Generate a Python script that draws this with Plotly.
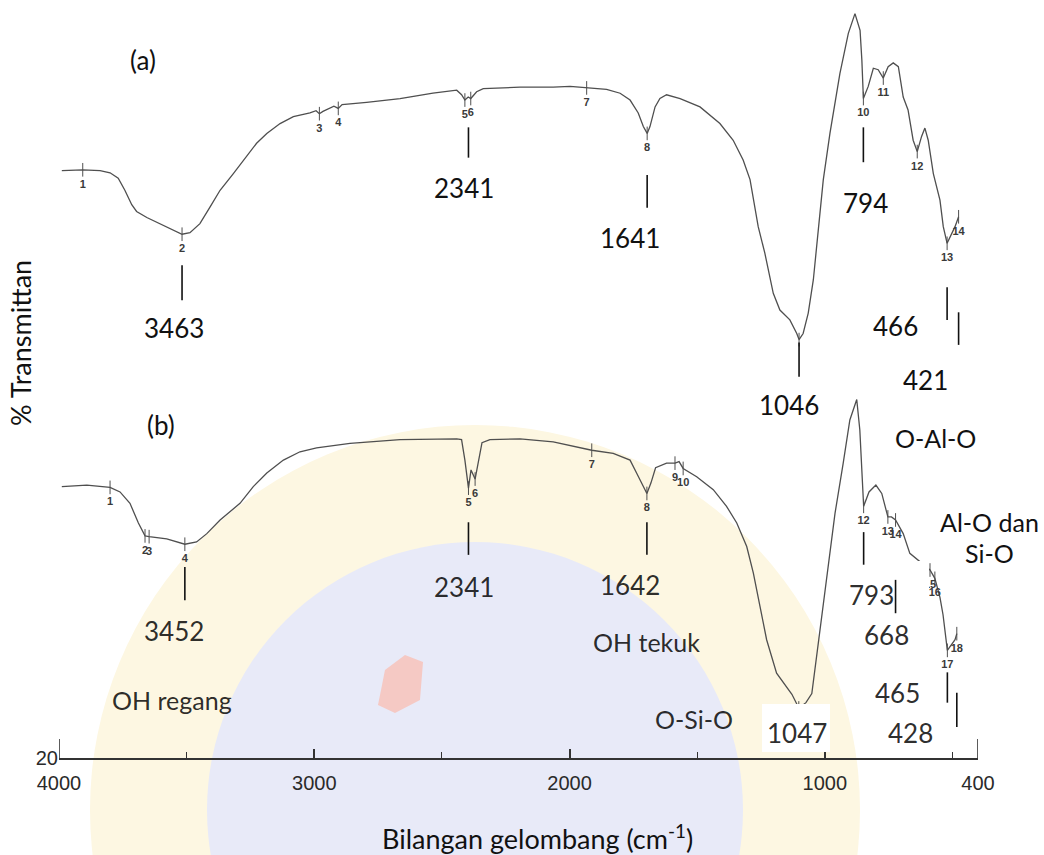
import numpy as np
import plotly.graph_objects as go

# ---------------------------------------------------------------------------
# FTIR spectra: wavenumber (cm-1) and transmittance (%T) readings
# ---------------------------------------------------------------------------
WN_A = [3934, 3852, 3784, 3745, 3713, 3687, 3660, 3641, 3601, 3549, 3497, 3463,
        3432, 3393, 3353, 3314, 3262, 3210, 3171, 3131, 3079, 3027, 2962, 2938,
        2925, 2911, 2883, 2868, 2851, 2836, 2740, 2609, 2480, 2387, 2368, 2355,
        2342, 2332, 2309, 2283, 2139, 2009, 1943, 1878, 1800, 1747, 1708, 1676,
        1656, 1641, 1630, 1610, 1591, 1565, 1512, 1434, 1356, 1304, 1265, 1238,
        1225, 1206, 1180, 1147, 1121, 1082, 1055, 1046, 1030, 1010, 990, 971,
        951, 925, 886, 853, 827, 807, 800, 794, 775, 755, 736, 716, 697, 677,
        657, 638, 619, 599, 583, 566, 553, 540, 520, 494, 481, 466, 448, 435, 421]
T_A = [57.5, 57.6, 57.5, 57.2, 56.5, 54.9, 53.0, 52.1, 51.3, 50.5, 49.7, 49.1,
       49.3, 50.5, 52.7, 54.9, 57.1, 59.3, 61.1, 62.4, 63.7, 64.6, 65.1, 65.4,
       65.0, 65.3, 65.7, 66.0, 65.7, 66.2, 66.5, 67.0, 67.7, 68.1, 67.5, 66.8,
       67.2, 67.0, 67.9, 68.3, 68.5, 68.5, 68.6, 68.4, 68.2, 67.7, 66.8, 65.1,
       63.3, 62.4, 63.3, 65.9, 67.0, 67.5, 67.0, 65.9, 63.7, 61.5, 58.9, 56.3,
       53.6, 50.1, 46.6, 41.3, 39.1, 37.8, 36.0, 35.2, 36.0, 38.7, 43.1, 49.2,
       56.3, 62.4, 70.3, 75.6, 78.2, 76.0, 72.1, 67.0, 68.6, 71.0, 70.8, 69.7,
       71.2, 71.7, 71.2, 67.2, 65.5, 61.5, 60.0, 62.0, 63.1, 61.5, 57.1, 53.6,
       50.1, 47.9, 49.2, 50.1, 51.4]

WN_B = [3934, 3836, 3745, 3706, 3667, 3634, 3608, 3592, 3523, 3452, 3406, 3366,
        3314, 3236, 3184, 3131, 3066, 3001, 2936, 2805, 2609, 2387, 2368, 2355,
        2341, 2331, 2315, 2288, 2257, 2139, 2009, 1858, 1774, 1708, 1681, 1657,
        1642, 1626, 1608, 1565, 1532, 1516, 1500, 1447, 1382, 1330, 1290, 1251,
        1225, 1199, 1173, 1134, 1094, 1074, 1047, 1019, 996, 977, 957, 932, 905,
        873, 847, 820, 808, 793, 772, 745, 722, 698, 684, 668, 638, 612, 572,
        533, 514, 494, 482, 465, 435, 428]
T_B = [55.8, 56.0, 55.7, 55.1, 53.6, 51.0, 49.3, 49.2, 48.9, 48.2, 48.5, 49.6,
       51.4, 53.6, 55.8, 57.6, 59.3, 60.4, 60.9, 61.5, 62.0, 62.1, 62.0, 59.3,
       55.6, 58.0, 56.8, 61.6, 62.0, 62.1, 61.7, 60.6, 60.2, 59.3, 57.5, 55.8,
       54.9, 56.3, 58.3, 58.9, 58.9, 59.1, 58.2, 57.1, 55.4, 53.2, 51.0, 47.9,
       44.4, 40.0, 35.6, 31.2, 29.4, 28.4, 26.6, 27.3, 28.5, 33.4, 39.1, 45.7,
       52.3, 58.9, 64.6, 67.3, 63.3, 53.2, 55.1, 56.0, 54.9, 51.8, 51.8, 51.4,
       49.6, 47.0, 45.9, 44.8, 43.7, 41.2, 38.9, 34.2, 35.6, 36.4]

# Numbered peaks picked by the instrument software
PEAKS_A = [3852, 3463, 2925, 2851, 2355, 2332, 1878, 1641, 1046, 794, 716, 583, 466, 421]
PEAK_NO_A = ["1", "2", "3", "4", "5", "6", "7", "8", "", "10", "11", "12", "13", "14"]
PEAKS_B = [3745, 3608, 3592, 3452, 2341, 2315, 1858, 1642, 1532, 1500, 1047,
           793, 698, 668, 533, 514, 465, 428]
PEAK_NO_B = ["1", "2", "3", "4", "5", "6", "7", "8", "9", "10", "",
             "12", "13", "14", "15", "16", "17", "18"]

# Band positions quoted in the text
BANDS_A = [3463, 2341, 1641, 1046, 794, 466, 421]
BANDS_B = [3452, 2341, 1642, 1047, 793, 668, 465, 428]

# Vibration assignments
ASSIGNMENTS = ["OH regang", "OH tekuk", "O-Si-O", "O-Al-O", "Al-O dan", "Si-O"]

# Printed wavenumber scale
SCALE_TICKS = [4000, 3000, 2000, 1000, 400]
SCALE_MINOR = [3500, 2500, 1500, 500]

# ---------------------------------------------------------------------------
# Layout constants
# ---------------------------------------------------------------------------
OFFSET_A = 40.0            # spectrum (a) is stacked above spectrum (b)
Y_RANGE = [20, 120]
DATA_RANGE = [3945, 345]   # calibration of the recorded traces
W, H = 1044, 855
ML, MR, MT, MB = 59, 66, 0, 97
PW, PH = W - ML - MR, H - MT - MB

TEXT_FONT = "Lato"
AXIS_FONT = "Liberation Sans"
CURVE = "#4f4f4f"
INK = "#111111"
INK_SOFT = "rgba(0,0,0,0.84)"

# value label placement: band -> (text x, text y, line top, line bottom)
LABEL_POS_A = {
    3463: (3495, 76.7, 85.0, 80.4),
    2341: (2359, 95.2, 103.2, 99.2),
    1641: (1708, 88.6, 96.9, 92.6),
    1046: (1086, 66.6, 74.8, 70.3),
    794: (784, 93.2, 103.2, 98.6),
    466: (670, 77.0, 82.1, 77.8),
    421: (549, 69.9, 78.8, 74.5),
}
LABEL_POS_B = {
    3452: (3495, 36.8, 45.2, 40.8),
    2341: (2359, 42.6, 51.1, 46.8),
    1642: (1708, 42.8, 51.1, 46.8),
    1047: (1054, 23.3, None, None),
    793: (762, 41.5, 49.8, 45.5),
    668: (702, 36.2, 43.5, 39.1),
    465: (662, 28.6, 31.3, 27.3),
    428: (608, 23.3, 28.6, 24.1),
}
# assignment label placement in figure pixels (centre x, centre y)
ASSIGN_POS = {
    "OH regang": (172, 700),
    "OH tekuk": (646, 642),
    "O-Si-O": (694, 719),
    "O-Al-O": (935, 438),
    "Al-O dan": (990, 522),
    "Si-O": (990, 553),
}


def px_x(p):
    return (p - ML) / PW


def px_y(p):
    return (H - MB - p) / PH


def value_at(wn_list, t_list, w):
    x = np.asarray(wn_list[::-1], float)
    y = np.asarray(t_list[::-1], float)
    return float(np.interp(w, x, y))


fig = go.Figure()

# spectra
ya = [t + OFFSET_A for t in T_A]
fig.add_trace(go.Scatter(x=WN_A, y=ya, mode="lines", xaxis="x2", yaxis="y",
                         line=dict(color=CURVE, width=1.3), hoverinfo="skip"))
fig.add_trace(go.Scatter(x=WN_B, y=T_B, mode="lines", xaxis="x2", yaxis="y",
                         line=dict(color=CURVE, width=1.3), hoverinfo="skip"))

# peak tick marks and numbers
for wn_list, t_list, peaks, nums, off in [
    (WN_A, T_A, PEAKS_A, PEAK_NO_A, OFFSET_A),
    (WN_B, T_B, PEAKS_B, PEAK_NO_B, 0.0),
]:
    tx, ty, lx, ly, lt = [], [], [], [], []
    for w, n in zip(peaks, nums):
        v = value_at(wn_list, t_list, w) + off
        tx += [w, w, None]
        ty += [v - 0.9, v + 0.9, None]
        if n:
            lx.append(w)
            ly.append(v - 2.0)
            lt.append(n)
    fig.add_trace(go.Scatter(x=tx, y=ty, mode="lines", xaxis="x2", yaxis="y",
                             line=dict(color=CURVE, width=1), hoverinfo="skip"))
    fig.add_trace(go.Scatter(x=lx, y=ly, mode="text", text=lt, xaxis="x2", yaxis="y",
                             textfont=dict(family=AXIS_FONT, size=11, color="#3a3a3a",
                                           weight="bold"),
                             cliponaxis=False, hoverinfo="skip"))

shapes = []

# faint watermark in the page background
WM_CX, WM_CY = 475, 810


def disc(r, color):
    return dict(type="circle", xref="paper", yref="paper", layer="below",
                x0=px_x(WM_CX - r), x1=px_x(WM_CX + r),
                y0=px_y(WM_CY + r), y1=px_y(WM_CY - r),
                fillcolor=color, line=dict(width=0))


shapes.append(disc(385, "#fdf7e2"))
shapes.append(disc(268, "#e8eaf8"))
blob = [(385, 670), (405, 655), (423, 662), (420, 700), (395, 713), (378, 705), (382, 685)]
path = "M " + " L ".join(f"{px_x(a):.4f},{px_y(b):.4f}" for a, b in blob) + " Z"
shapes.append(dict(type="path", path=path, xref="paper", yref="paper", layer="below",
                   fillcolor="#f5c9c4", line=dict(width=0)))

# white label boxes
for x0, x1, y0, y1 in [(858, 929, 561, 650), (762, 830, 704, 752)]:
    shapes.append(dict(type="rect", xref="paper", yref="paper", layer="above",
                       x0=px_x(x0), x1=px_x(x1), y0=px_y(y1), y1=px_y(y0),
                       fillcolor="white", line=dict(width=0)))

# end marks of the printed scale
for w in (SCALE_TICKS[0], SCALE_TICKS[-1]):
    shapes.append(dict(type="line", xref="x", yref="paper", x0=w, x1=w,
                       y0=0, y1=19 / PH, line=dict(color="#333", width=1.6)))

annotations = []


def add_text(x, y, text, color=INK, size=26):
    annotations.append(dict(x=x, y=y, xref="x2", yref="y", text=text, showarrow=False,
                            xanchor="center", yanchor="middle",
                            font=dict(family=TEXT_FONT, size=size, color=color)))


for bands, pos, color in [(BANDS_A, LABEL_POS_A, INK), (BANDS_B, LABEL_POS_B, INK_SOFT)]:
    for b in bands:
        txx, txy, l0, l1 = pos[b]
        add_text(txx, txy, str(b), color)
        if l0 is not None:
            shapes.append(dict(type="line", xref="x2", yref="y", layer="above",
                               x0=b, x1=b, y0=l1, y1=l0, line=dict(color=INK, width=1.6)))

for name in ASSIGNMENTS:
    cx, cy = ASSIGN_POS[name]
    soft = name in ("OH regang", "OH tekuk", "O-Si-O")
    annotations.append(dict(x=px_x(cx), y=px_y(cy), xref="paper", yref="paper",
                            text=name, showarrow=False, xanchor="center", yanchor="middle",
                            font=dict(family=TEXT_FONT, size=25,
                                      color=INK_SOFT if soft else INK)))

# spectrum tags
add_text(3616, 112.1, "(a)")
add_text(3545, 63.9, "(b)")

# axis titles
annotations.append(dict(x=px_x(20), y=px_y(343), xref="paper", yref="paper",
                        text="% Transmittan", textangle=-90, showarrow=False,
                        xanchor="center", yanchor="middle",
                        font=dict(family=TEXT_FONT, size=27, color=INK)))
annotations.append(dict(x=px_x(537), y=px_y(837), xref="paper", yref="paper",
                        text="Bilangan gelombang (cm<sup>-1</sup>)", showarrow=False,
                        xanchor="center", yanchor="middle",
                        font=dict(family=TEXT_FONT, size=27, color=INK)))

fig.update_layout(
    width=W, height=H,
    margin=dict(l=ML, r=MR, t=MT, b=MB, autoexpand=False),
    paper_bgcolor="white", plot_bgcolor="rgba(0,0,0,0)",
    showlegend=False,
    xaxis=dict(range=[SCALE_TICKS[0], SCALE_TICKS[-1]], tickvals=SCALE_TICKS,
               ticks="inside", ticklen=9, tickwidth=1.5, tickcolor="#333",
               showline=True, linecolor="#333", linewidth=1.8,
               showgrid=False, zeroline=False, ticklabelstandoff=6,
               tickfont=dict(family=AXIS_FONT, size=20, color="#2a2a2a"),
               minor=dict(tickvals=SCALE_MINOR, ticks="inside", ticklen=6,
                          tickwidth=1.3, tickcolor="#333")),
    xaxis2=dict(range=DATA_RANGE, overlaying="x", visible=False),
    yaxis=dict(range=Y_RANGE, tickvals=[Y_RANGE[0]], ticks="", showline=False,
               showgrid=False, zeroline=False,
               tickfont=dict(family=AXIS_FONT, size=20, color="#2a2a2a")),
    shapes=shapes,
    annotations=annotations,
)

fig.write_html("out.html")
